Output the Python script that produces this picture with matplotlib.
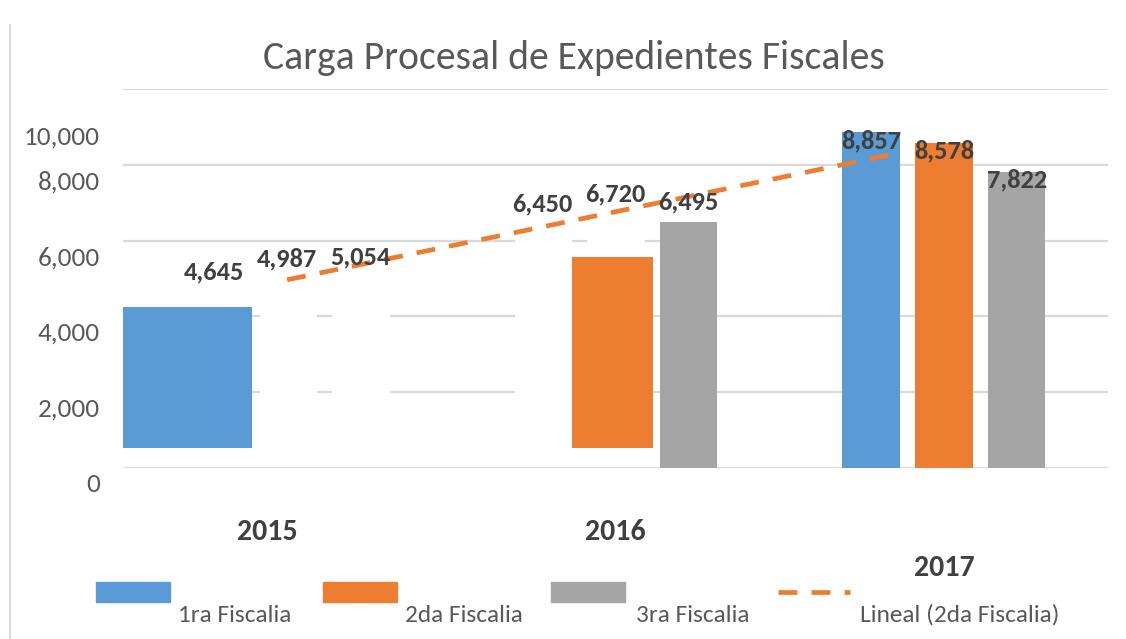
import matplotlib
matplotlib.use('Agg')

import numpy as np
import matplotlib.pyplot as plt
import matplotlib.transforms as mtransforms
from matplotlib.patches import Rectangle
from matplotlib.lines import Line2D

# datos
anios = ['2015', '2016', '2017']
primera = [4645, 6450, 8857]
segunda = [4987, 6720, 8578]
tercera = [5054, 6495, 7822]
serie_nombres = ['1ra Fiscalia', '2da Fiscalia', '3ra Fiscalia', 'Lineal (2da Fiscalia)']
ytick_vals = [0, 2000, 4000, 6000, 8000, 10000]
ytick_txt = ['0', '2,000', '4,000', '6,000', '8,000', '10,000']
# barras que salen recortadas en la imagen (tramo visible)
recorte_base = [530, 530]
recorte_tope = [4250, 5570]

AZUL = '#5B9BD5'
NARANJA = '#ED7D31'
GRIS = '#A5A5A5'
GRID = '#D9D9D9'
TXT = '#595959'
ETQ = '#404040'
FUENTE = ['Carlito', 'Barlow Semi Condensed', 'DejaVu Sans']

W, H = 1126, 639
plt.rcParams['font.family'] = FUENTE

fig = plt.figure(figsize=(W / 100, H / 100), dpi=100)
ax = fig.add_axes([123 / W, 171 / H, 985 / W, 379 / H])
ax.set_xlim(-0.5, 2.5)
ax.set_ylim(0, 10000)
for s in ax.spines.values():
	s.set_visible(False)

x = np.arange(len(anios))
off = 0.222
ancho = 0.175

# gridlines (algunas salen cortadas)
ax.hlines([0, 8000, 10000], -0.5, 2.5, color=GRID, lw=1.6, zorder=1)
for y in [2000, 4000]:
	for a, b in [(-0.5, -0.083), (0.091, 0.137), (0.313, 0.694), (1.114, 2.5)]:
		ax.hlines(y, a, b, color=GRID, lw=1.6, zorder=1)
for a, b in [(-0.5, 0.694), (0.868, 0.913), (1.09, 1.136), (2.308, 2.5)]:
	ax.hlines(6000, a, b, color=GRID, lw=1.6, zorder=1)

# barras
ax.bar(x[2] - off, primera[2], ancho, color=AZUL, zorder=2)
ax.bar(x[2], segunda[2], ancho, color=NARANJA, zorder=2)
ax.bar(x[1:] + off, tercera[1:], ancho, color=GRIS, zorder=2)
ax.bar(x[0] - 0.303, recorte_tope[0] - recorte_base[0], 0.393, bottom=recorte_base[0], color=AZUL, zorder=2)
ax.bar(x[1] - 0.009, recorte_tope[1] - recorte_base[1], 0.247, bottom=recorte_base[1], color=NARANJA, zorder=2)

# tendencia lineal 2da fiscalia
coef = np.polyfit(x, segunda, 1)
xs = np.array([0, 1.87])
ax.plot(xs, np.polyval(coef, xs), color=NARANJA, lw=3.4, dashes=(4, 3), zorder=3)

# etiquetas de datos
dy = [520, 520, -215]
for k, serie in enumerate([primera, segunda, tercera]):
	for i, v in enumerate(serie):
		ax.text(x[i] + (k - 1) * off, v + dy[i], f"{v:,}", ha='center', va='center',
				fontsize=19, fontweight='bold', color=ETQ, zorder=4)

# eje y
ax.set_yticks(ytick_vals)
ax.set_yticklabels(ytick_txt, fontsize=19.5, color=TXT)
ax.tick_params(axis='y', length=0, pad=16.5)
for lbl, v in zip(ax.get_yticklabels(), ytick_vals):
	d = -46 if v == 10000 else -15
	lbl.set_transform(lbl.get_transform() + mtransforms.ScaledTranslation(0, d / 100, fig.dpi_scale_trans))

# eje x (anios)
ax.set_xticks([])
xt = ax.get_xaxis_transform()
pos_y = [-0.169, -0.169, -0.264]
desp = [-0.06, 0, 0]
for i, a in enumerate(anios):
	ax.text(x[i] + desp[i], pos_y[i], a, transform=xt, ha='center', va='center',
			fontsize=21.5, fontweight='bold', color=ETQ)

# titulo
fig.text(574 / W, (H - 58) / H, 'Carga Procesal de Expedientes Fiscales', ha='center', va='center',
		 fontsize=28.5, color=TXT)

# leyenda manual
colores = [AZUL, NARANJA, GRIS]
px_patch = [96, 323, 551]
px_txt = [178, 405, 636, 860]
for i in range(3):
	fig.patches.append(Rectangle((px_patch[i] / W, (H - 602) / H), 74 / W, 20 / H,
								 transform=fig.transFigure, color=colores[i]))
fig.lines.append(Line2D([778 / W, 850 / W], [(H - 592) / H] * 2, transform=fig.transFigure,
						color=NARANJA, lw=3.4, dashes=(4, 3)))
for i in range(4):
	fig.text(px_txt[i] / W, (H - 615) / H, serie_nombres[i], ha='left', va='center',
			 fontsize=18.3, color=TXT)

# borde izquierdo
fig.lines.append(Line2D([10 / W, 10 / W], [0, (H - 25) / H], transform=fig.transFigure, color=GRID, lw=1.5))

fig.savefig('out.png', dpi=100)
